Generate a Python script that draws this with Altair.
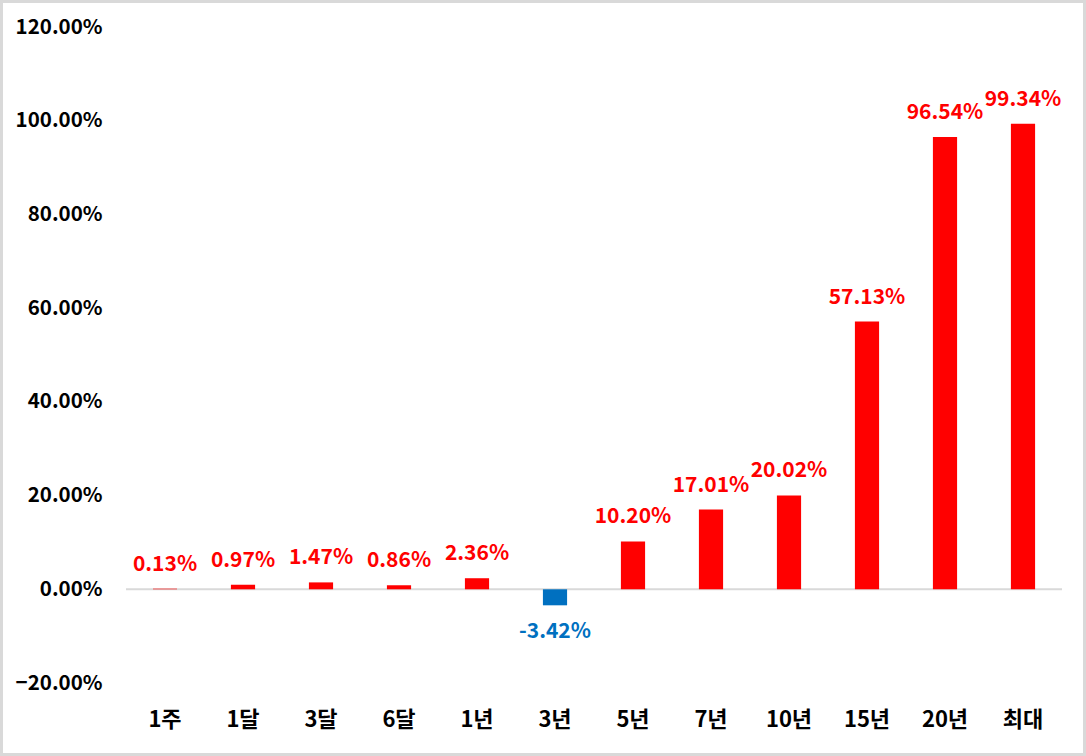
import altair as alt
import pandas as pd

categories = ["1주", "1달", "3달", "6달", "1년", "3년", "5년", "7년", "10년", "15년", "20년", "최대"]
values = [0.13, 0.97, 1.47, 0.86, 2.36, -3.42, 10.20, 17.01, 20.02, 57.13, 96.54, 99.34]
y_ticks = [-20, 0, 20, 40, 60, 80, 100, 120]

df = pd.DataFrame({"cat": categories, "v": [v / 100 for v in values]})
df["label"] = [f"{v:.2f}%" for v in values]
df["sign"] = ["pos" if v >= 0 else "neg" for v in values]

FONT = "Noto Sans CJK KR"

x = alt.X("cat:N", sort=categories, title=None,
          scale=alt.Scale(paddingInner=0.69, paddingOuter=0.345),
          axis=alt.Axis(domain=False, ticks=False, labelAngle=0, labelFontSize=22,
                        labelFontWeight="bold", labelFont=FONT, labelColor="#000000",
                        labelPadding=26))
y = alt.Y("v:Q", title=None,
          scale=alt.Scale(domain=[-0.2, 1.2], nice=False, zero=False),
          axis=alt.Axis(values=[t / 100 for t in y_ticks], format=".2%", grid=False,
                        domain=False, ticks=False, labelFontSize=20.5, labelFontWeight="bold",
                        labelFont=FONT, labelColor="#000000", labelPadding=24))

color = alt.Color("sign:N", scale=alt.Scale(domain=["pos", "neg"], range=["#FF0000", "#0070C0"]), legend=None)

bars = alt.Chart(df).mark_bar().encode(x=x, y=y, y2=alt.datum(0), color=color)

zero = alt.Chart(pd.DataFrame({"z": [0]})).mark_rule(color="#d9d9d9", strokeWidth=2).encode(y=alt.Y("z:Q"))

pos_text = alt.Chart(df).transform_filter("datum.sign == 'pos'").mark_text(
    dy=-24, fontSize=21, fontWeight="bold", font=FONT, baseline="middle"
).encode(x=alt.X("cat:N", sort=categories), y=alt.Y("v:Q"), text="label:N", color=color)

neg_text = alt.Chart(df).transform_filter("datum.sign == 'neg'").mark_text(
    dy=27, fontSize=21, fontWeight="bold", font=FONT, baseline="middle"
).encode(x=alt.X("cat:N", sort=categories), y=alt.Y("v:Q"), text="label:N", color=color)

frame = alt.Chart(pd.DataFrame({"a": [0]})).mark_rect(
    fill=None, stroke="#d9d9d9", strokeWidth=3, clip=False
).encode(x=alt.value(-124.5), x2=alt.value(958.5), y=alt.value(-25.5), y2=alt.value(727.5))

chart = alt.layer(zero, bars, pos_text, neg_text, frame).properties(
    width=936, height=656,
    autosize=alt.AutoSizeParams(type="none"),
    padding={"left": 126, "top": 27, "right": 24, "bottom": 73},
    background="#ffffff",
).configure_view(stroke=None)

chart.save("out.html", embed_options={"renderer": "svg", "actions": False})
